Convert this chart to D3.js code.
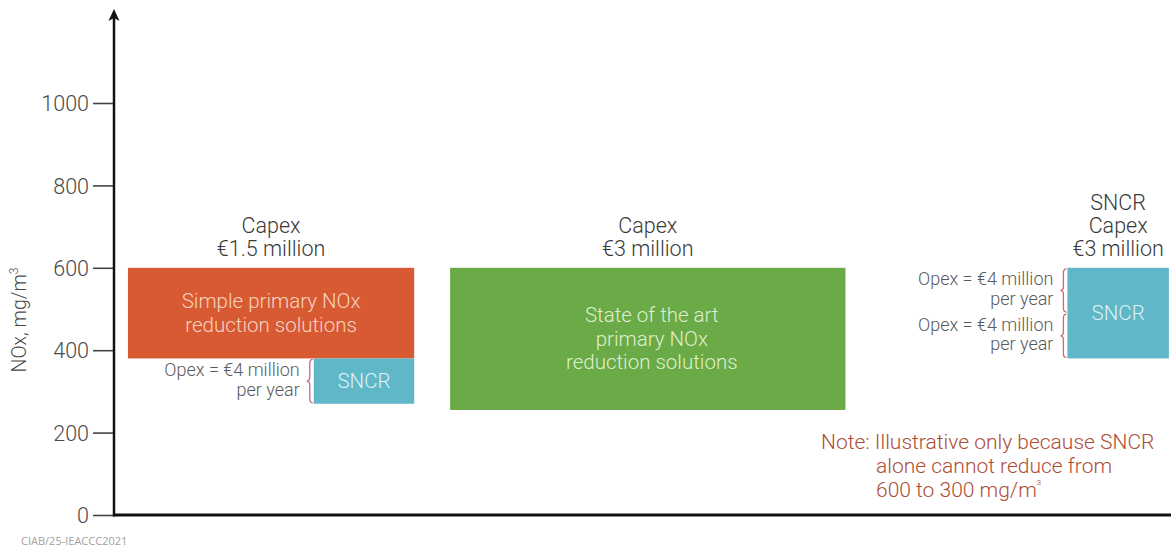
<!DOCTYPE html>
<html>
<head>
<meta charset="utf-8">
<script src="https://cdn.jsdelivr.net/npm/d3@7"></script>
<style>
  html, body { margin: 0; padding: 0; background: #fff; }
  svg { display: block; font-family: Roboto, "Liberation Sans", sans-serif; font-weight: 300; }
</style>
</head>
<body>
<svg id="chart" width="1171" height="551"></svg>
<script>
// NOx levels (mg/m3) before and after each reduction step
const yTicks = [0, 200, 400, 600, 800, 1000];
const blockIds = ["simplePrimary", "sncrAfterSimple", "sotaPrimary", "sncrOnly"];
const blockFrom = [600, 380, 600, 600];
const blockTo = [380, 270, 255, 380];
const blockText = [
  ["Simple primary NOx", "reduction solutions"],
  ["SNCR"],
  ["State of the art", "primary NOx", "reduction solutions"],
  ["SNCR"]
];
const capexText = [
  ["Capex", "€1.5 million"],
  ["Capex", "€3 million"],
  ["SNCR", "Capex", "€3 million"]
];
const opexText = ["Opex = €4 million", "per year"];
// opex brackets: [upper NOx, lower NOx]
const opexSpans = [[380, 270], [600, 490], [490, 380]];
const noteText = ["Note: Illustrative only because SNCR", "alone cannot reduce from", "600 to 300 mg/m³"];

const svg = d3.select("#chart");
const W = 1171, H = 551;
const axisX = 114, axisY = 515;

const y = d3.scaleLinear().domain([0, 1000]).range([axisY, 103]);
// horizontal layout in column units across the plot
const x = d3.scaleLinear().domain([0, 100]).range([axisX, W]);
const layout = {
  simplePrimary:   [1.32, 28.4],
  sncrAfterSimple: [18.9, 28.4],
  sotaPrimary:     [31.8, 69.2],
  sncrOnly:        [90.2, 99.8]
};
const fills = {
  simplePrimary: "#d85a32",
  sncrAfterSimple: "#5fb7c8",
  sotaPrimary: "#6aaa47",
  sncrOnly: "#5fb7c8"
};
const inkColors = {
  simplePrimary: "#f7d2c0",
  sncrAfterSimple: "#dcf2f6",
  sotaPrimary: "#def0cd",
  sncrOnly: "#dcf2f6"
};

// y axis ticks and labels
const yAxis = d3.axisLeft(y).tickValues(yTicks).tickSize(20).tickPadding(4).tickFormat(d3.format("d"));
const gy = svg.append("g").attr("transform", `translate(${axisX - 1},0)`).call(yAxis);
gy.select(".domain").remove();
gy.selectAll(".tick line").attr("stroke", "#444").attr("stroke-width", 1.6);
gy.selectAll(".tick text")
  .attr("fill", "#4a4a4a").attr("font-size", 21.5).attr("font-family", "Roboto, sans-serif")
  .attr("font-weight", 300).attr("dy", "0.36em");

// axis lines
svg.append("line").attr("x1", axisX).attr("x2", axisX).attr("y1", axisY + 1.5).attr("y2", 16)
  .attr("stroke", "#111").attr("stroke-width", 2.5);
svg.append("path")
  .attr("d", `M${axisX - 5.5},${21} L${axisX},${9} L${axisX + 5.5},${21} L${axisX},${18} Z`)
  .attr("fill", "#111");
svg.append("line").attr("x1", axisX - 1).attr("x2", W).attr("y1", axisY).attr("y2", axisY)
  .attr("stroke", "#111").attr("stroke-width", 3);

// y axis title
svg.append("text")
  .attr("transform", `translate(26,${320}) rotate(-90)`)
  .attr("text-anchor", "middle").attr("font-size", 19.5).attr("fill", "#4a4a4a")
  .html('NOx, mg/m<tspan dy="-8" font-size="12">3</tspan>');

// reduction blocks
const blocks = blockIds.map((id, i) => ({ id, from: blockFrom[i], to: blockTo[i], text: blockText[i] }));
const gb = svg.append("g");
gb.selectAll("rect").data(blocks).join("rect")
  .attr("x", d => x(layout[d.id][0]))
  .attr("width", d => x(layout[d.id][1]) - x(layout[d.id][0]))
  .attr("y", d => y(d.from))
  .attr("height", d => y(d.to) - y(d.from))
  .attr("fill", d => fills[d.id]);

const lineH = 23.5;
blocks.forEach(d => {
  const cx = (x(layout[d.id][0]) + x(layout[d.id][1])) / 2 + (d.id === "sotaPrimary" ? 4 : 0);
  const cy = (y(d.from) + y(d.to)) / 2;
  const n = d.text.length;
  const t = gb.append("text").attr("text-anchor", "middle").attr("font-size", 20.5)
    .attr("fill", inkColors[d.id]);
  d.text.forEach((s, k) => {
    t.append("tspan").attr("x", cx).attr("y", cy + (k - (n - 1) / 2) * lineH + 7).text(s);
  });
});

// capex labels above each option
const capexAnchors = ["simplePrimary", "sotaPrimary", "sncrOnly"];
capexAnchors.forEach((id, i) => {
  const cx = (x(layout[id][0]) + x(layout[id][1])) / 2;
  const lines = capexText[i];
  const t = svg.append("text").attr("text-anchor", "middle").attr("font-size", 21.5).attr("fill", "#3a3a3a");
  lines.forEach((s, k) => {
    t.append("tspan").attr("x", cx).attr("y", y(600) - 12 - (lines.length - 1 - k) * 23).text(s);
  });
});

// curly brace opening to the right
function brace(xc, y0, y1) {
  const w = 3, ym = (y0 + y1) / 2, r = 4;
  const p = d3.path();
  p.moveTo(xc + w, y0);
  p.quadraticCurveTo(xc, y0, xc, y0 + r);
  p.lineTo(xc, ym - r);
  p.quadraticCurveTo(xc, ym, xc - w, ym);
  p.quadraticCurveTo(xc, ym, xc, ym + r);
  p.lineTo(xc, y1 - r);
  p.quadraticCurveTo(xc, y1, xc + w, y1);
  return p.toString();
}

// opex brackets and labels
const opexX = [x(layout.sncrAfterSimple[0]) - 4, x(layout.sncrOnly[0]) - 4, x(layout.sncrOnly[0]) - 4];
opexSpans.forEach((span, i) => {
  const y0 = y(span[0]) + 1, y1 = y(span[1]) - 1;
  svg.append("path").attr("d", brace(opexX[i], y0, y1))
    .attr("fill", "none").attr("stroke", "#c46a78").attr("stroke-width", 1.3);
  const ym = (y0 + y1) / 2;
  const t = svg.append("text").attr("text-anchor", "end").attr("font-size", 18).attr("fill", "#5a5a5a");
  opexText.forEach((s, k) => {
    t.append("tspan").attr("x", opexX[i] - 10).attr("y", ym - 5 + k * 19.5).text(s);
  });
});

// note
const note = svg.append("text").attr("font-size", 21).attr("fill", "#ae4d36");
note.append("tspan").attr("x", 821).attr("y", 449).text(noteText[0]);
note.append("tspan").attr("x", 876).attr("y", 473).text(noteText[1]);
note.append("tspan").attr("x", 876).attr("y", 497).text(noteText[2].slice(0, -1));
note.append("tspan").attr("dy", -8).attr("font-size", 12).text(noteText[2].slice(-1));

// source tag
svg.append("text").attr("x", 21).attr("y", 545).attr("font-size", 11).attr("fill", "#a0a0a0")
  .attr("font-family", "'Open Sans', sans-serif").attr("font-weight", 400).text("CIAB/25-IEACCC2021");
</script>
</body>
</html>
